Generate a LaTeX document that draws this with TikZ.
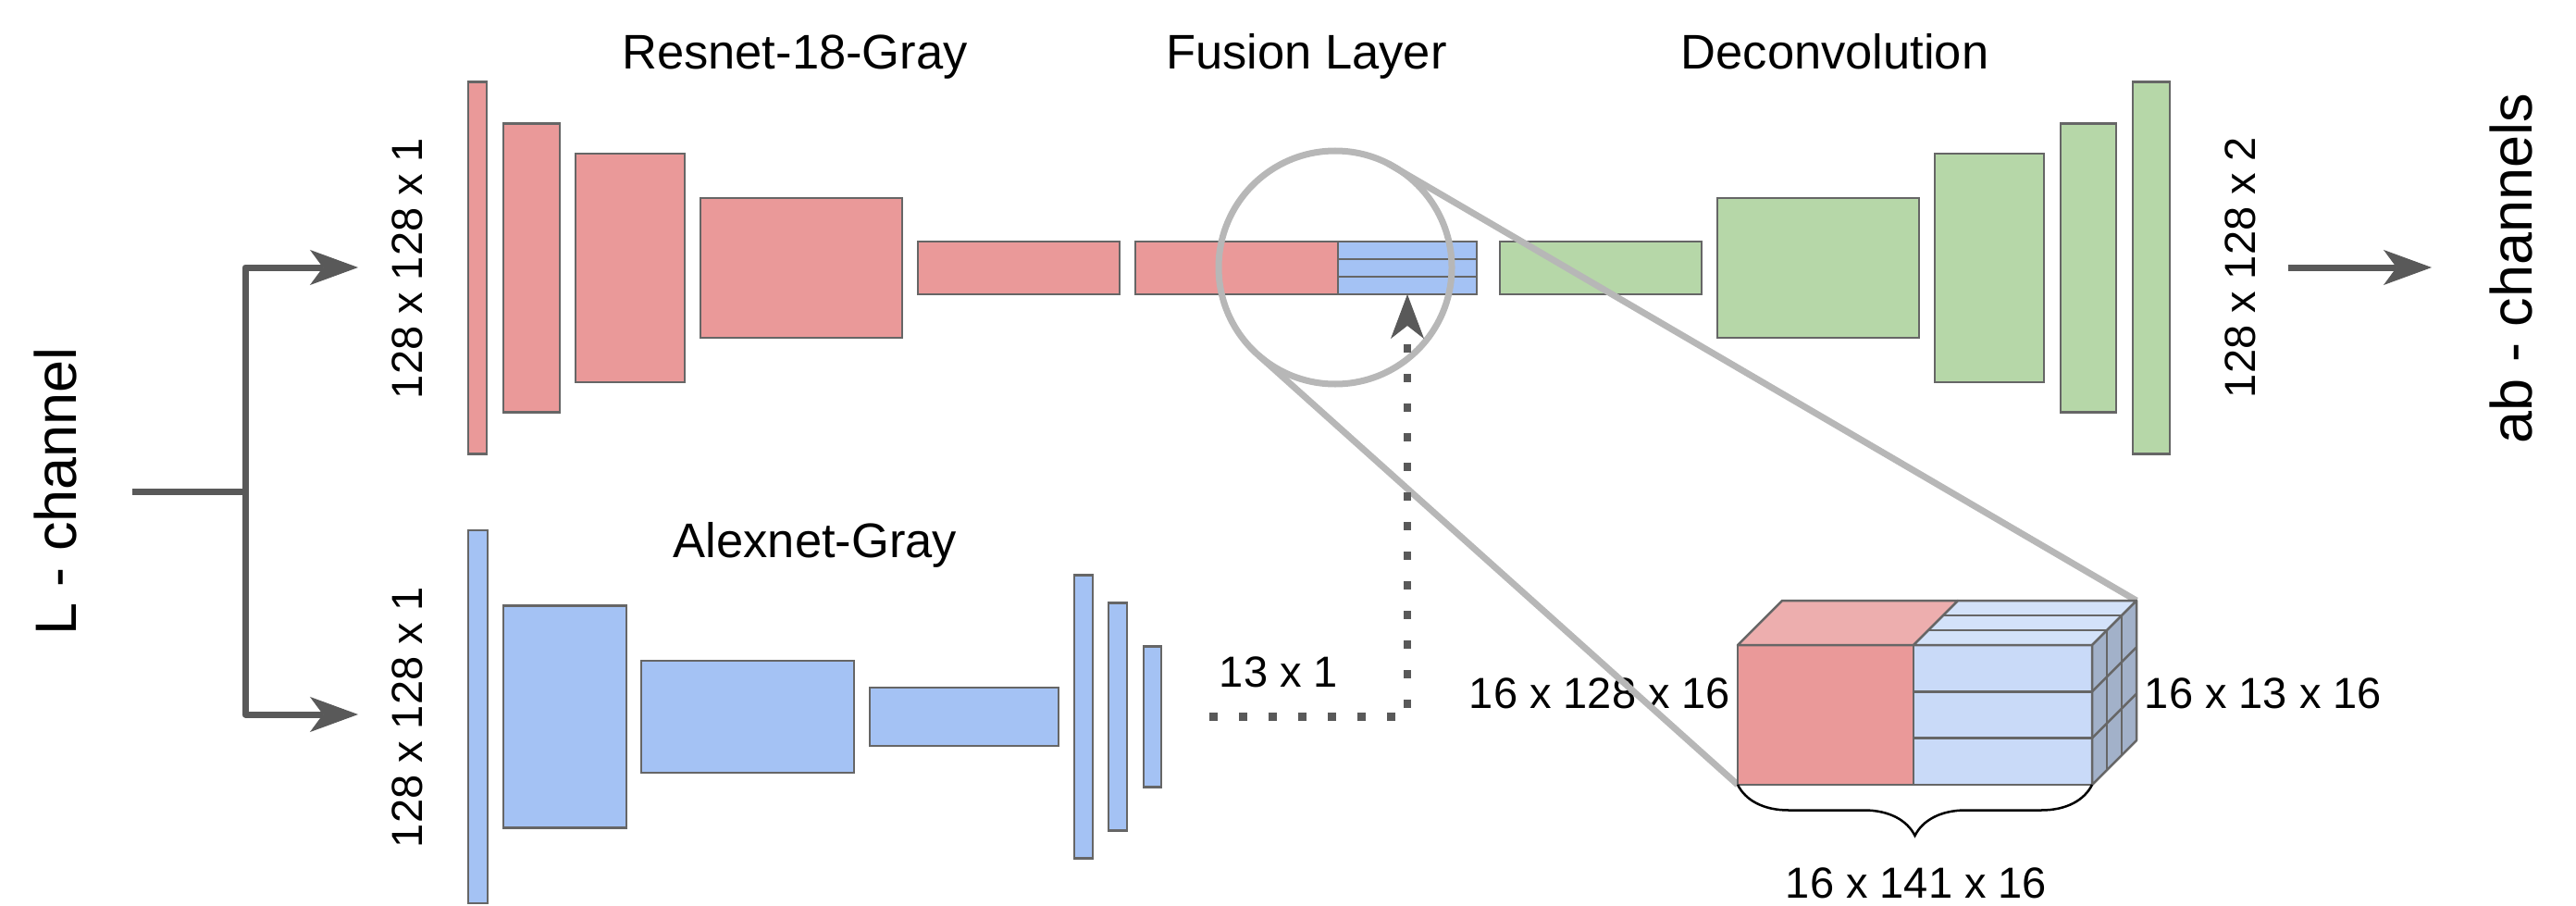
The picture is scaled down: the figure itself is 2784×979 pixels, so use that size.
\documentclass[tikz,border=0pt]{standalone}
\usepackage{fontspec}
\setmainfont{Liberation Sans}
\usetikzlibrary{arrows.meta,calc,decorations.pathreplacing}
\definecolor{redc}{HTML}{EA9999}
\definecolor{redtop}{HTML}{EDAEAE}
\definecolor{bluec}{HTML}{A4C2F4}
\definecolor{cubeblue}{HTML}{C9DAF8}
\definecolor{cubetop}{HTML}{D3E2F9}
\definecolor{cubeside}{HTML}{A2B1C9}
\definecolor{greenc}{HTML}{B6D7A8}
\definecolor{bordc}{HTML}{666666}
\definecolor{arrc}{HTML}{595959}
\definecolor{magc}{HTML}{B7B7B7}
\begin{document}
\begin{tikzpicture}[x=1pt,y=-1pt,
  lay/.style={draw=bordc, line width=2.5pt, inner sep=0pt, outer sep=0pt, rectangle},
  redbox/.style={lay, fill=redc},
  bluebox/.style={lay, fill=bluec},
  greenbox/.style={lay, fill=greenc},
  edge/.style={draw=bordc, line width=2.5pt, line join=round},
  arr/.style={draw=arrc, line width=7pt, line join=round, -{Stealth[length=52pt,width=38pt,inset=14pt,line width=1pt]}},
  plain/.style={draw=arrc, line width=7pt, line join=round},
  dotline/.style={draw=arrc, line width=8.5pt, dash pattern=on 8.5pt off 23.5pt, -{Stealth[length=48pt,width=36pt,inset=14pt,line width=1pt]}},
  mag/.style={draw=magc, line width=7pt},
  title/.style={inner sep=0pt, anchor=base, font=\fontsize{52.5}{60}\selectfont},
  dim/.style={inner sep=0pt, anchor=base, font=\fontsize{47}{54}\selectfont},
  vdim/.style={inner sep=0pt, rotate=90, font=\fontsize{47}{54}\selectfont},
  chan/.style={inner sep=0pt, rotate=90, font=\fontsize{63}{72}\selectfont},
]
\useasboundingbox (0,0) rectangle (2784,979);

% top row: Resnet
\node[redbox, minimum width=20pt, minimum height=402pt] (r1) at (516,289.5) {};
\node[redbox, minimum width=61pt, minimum height=312pt] (r2) at (574.5,289.5) {};
\node[redbox, minimum width=118pt, minimum height=247pt] (r3) at (681,289.5) {};
\node[redbox, minimum width=218pt, minimum height=151pt] (r4) at (866,289.5) {};
\node[redbox, minimum width=218pt, minimum height=57pt] (r5) at (1101,289.5) {};
% fusion
\node[redbox, minimum width=219pt, minimum height=57pt] (fr) at (1336.5,289.5) {};
\node[bluebox, minimum width=150pt, minimum height=57pt] (fb) at (1521,289.5) {};
\draw[edge] ($(fb.north west)!1/3!(fb.south west)$) -- ($(fb.north east)!1/3!(fb.south east)$);
\draw[edge] ($(fb.north west)!2/3!(fb.south west)$) -- ($(fb.north east)!2/3!(fb.south east)$);
% deconvolution
\node[greenbox, minimum width=218pt, minimum height=57pt] (g1) at (1730,289.5) {};
\node[greenbox, minimum width=218pt, minimum height=151pt] (g2) at (1965,289.5) {};
\node[greenbox, minimum width=118pt, minimum height=247pt] (g3) at (2150,289.5) {};
\node[greenbox, minimum width=60pt, minimum height=312pt] (g4) at (2257,289.5) {};
\node[greenbox, minimum width=40pt, minimum height=402pt] (g5) at (2325,289.5) {};

% bottom row: Alexnet
\node[bluebox, minimum width=21pt, minimum height=403pt] (b1) at (516.5,774.5) {};
\node[bluebox, minimum width=133pt, minimum height=240pt] (b2) at (610.5,774.5) {};
\node[bluebox, minimum width=230pt, minimum height=121pt] (b3) at (808,774.5) {};
\node[bluebox, minimum width=204pt, minimum height=63pt] (b4) at (1042,774.5) {};
\node[bluebox, minimum width=20pt, minimum height=306pt] (b5) at (1171,774.5) {};
\node[bluebox, minimum width=20pt, minimum height=246pt] (b6) at (1208,774.5) {};
\node[bluebox, minimum width=19pt, minimum height=152pt] (b7) at (1245.5,774.5) {};

% labels
\node[title] (tres) at (859,75) {Resnet-18-Gray};
\node[title] (tfus) at (1412,75) {Fusion Layer};
\node[title] (tdec) at (1983,75) {Deconvolution};
\node[title] (talex) at (881,602) {Alexnet-Gray};
\node[dim] (d13) at (1382,742) {13 x 1};
\node[dim] (d128) at (1729,765) {16 x 128 x 16};
\node[dim] (d13b) at (2446,765) {16 x 13 x 16};
\node[dim] (d141) at (2071,970) {16 x 141 x 16};
\node[vdim] (in1) at (440,290) {128 x 128 x 1};
\node[vdim] (in2) at (440,775) {128 x 128 x 1};
\node[vdim] (out) at (2421,289) {128 x 128 x 2};
\node[chan] (lch) at (60,531) {L - channel};
\node[chan] (abch) at (2714,290) {ab - channels};

% input branch
\coordinate (lstart) at (143,531);
\coordinate (split) at (265,531);
\coordinate (topin) at (387,289);
\coordinate (botin) at (387,772);
\draw[plain] (lstart) -- (split);
\draw[arr] (split) |- (topin);
\draw[arr] (split) |- (botin);
% output arrow
\coordinate (outs) at (2473,289);
\coordinate (oute) at (2628,289);
\draw[arr] (outs) -- (oute);

% magnifier
\node[circle, draw=magc, line width=7pt, minimum size=252pt, inner sep=0pt, outer sep=0pt] (circ) at (1443,289) {};
\coordinate (cfl) at (1878,848);
\coordinate (cbk) at (2309,649);
\draw[mag] (circ.63) -- (cbk);
\draw[mag] (circ.229) -- (cfl);

% cube
\node[lay, fill=redc, minimum width=190pt, minimum height=151pt] (cred) at (1973,772.5) {};
\node[lay, fill=cubeblue, minimum width=193pt, minimum height=151pt] (cblue) at (2164.5,772.5) {};
\filldraw[edge, fill=redtop] (cred.north west) -- ++(48,-48) -- ($(cblue.north west)+(48,-48)$) -- (cblue.north west) -- cycle;
\filldraw[edge, fill=cubetop] (cblue.north west) -- ++(48,-48) -- ++(193,0) -- (cblue.north east) -- cycle;
\draw[edge] ($(cblue.north west)+(16,-16)$) -- ++(193,0);
\draw[edge] ($(cblue.north west)+(32,-32)$) -- ++(193,0);
\filldraw[edge, fill=cubeside] (cblue.north east) -- ++(48,-48) -- ++(0,151) -- (cblue.south east) -- cycle;
\draw[edge] ($(cblue.north east)+(16,-16)$) -- ++(0,151);
\draw[edge] ($(cblue.north east)+(32,-32)$) -- ++(0,151);
\draw[edge] ($(cblue.north east)!1/3!(cblue.south east)$) -- ++(48,-48);
\draw[edge] ($(cblue.north east)!2/3!(cblue.south east)$) -- ++(48,-48);
\draw[edge] ($(cblue.north west)!1/3!(cblue.south west)$) -- ($(cblue.north east)!1/3!(cblue.south east)$);
\draw[edge] ($(cblue.north west)!2/3!(cblue.south west)$) -- ($(cblue.north east)!2/3!(cblue.south east)$);
\draw[black, line width=2.5pt, decorate, decoration={brace, amplitude=55pt}] (cblue.south east) -- (cred.south west);

% alexnet feature into fusion
\coordinate (dstart) at ($(b7.east)+(52,0)$);
\draw[dotline] (dstart) -| (fb.south);
\end{tikzpicture}
\end{document}
